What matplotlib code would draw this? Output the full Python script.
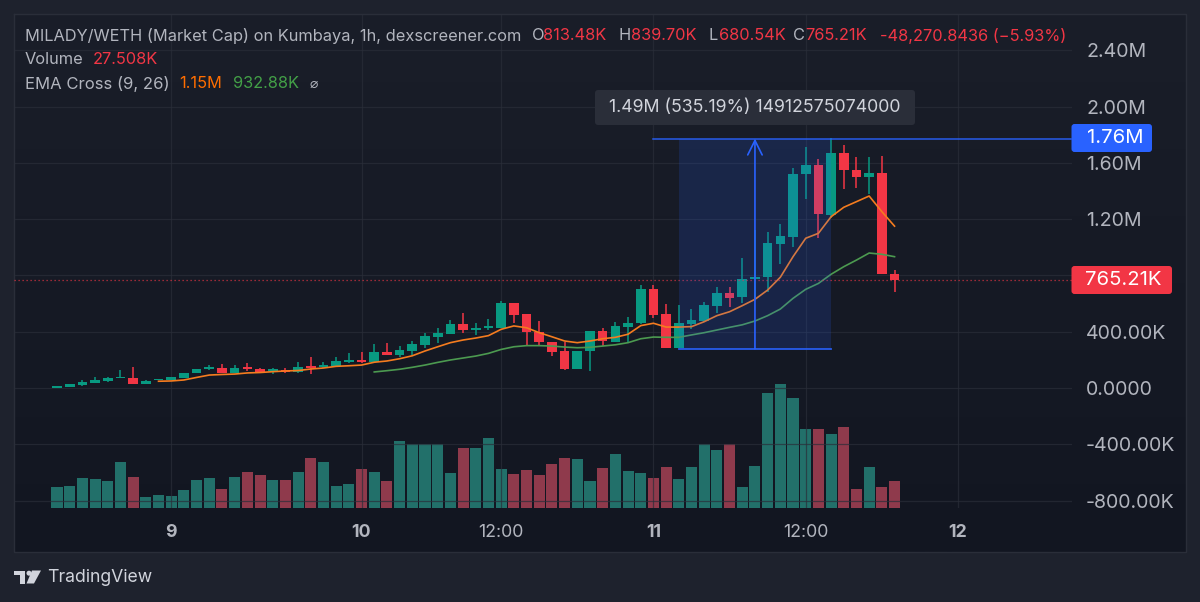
import matplotlib
matplotlib.use("Agg")
import matplotlib.pyplot as plt
import numpy as np
from matplotlib.patches import FancyBboxPatch, Polygon, Circle

plt.rcParams['font.family'] = ['Inter', 'DejaVu Sans']

# candles, market cap in thousands
opens = [2, 5, 21, 38, 50, 69, 71, 31, 59, 57, 71, 104, 133, 144, 109, 151, 135, 121, 130, 114, 156, 147, 156, 185,
         199, 183, 256, 234, 265, 306, 364, 382, 457, 414, 426, 428, 604, 526, 398, 329, 261, 133, 263, 405, 329,
         433, 460, 703, 524, 286, 455, 478, 585, 673, 644, 772, 789, 1025, 1075, 1518, 1582, 1231, 1672, 1551, 1497,
         1525, 813]
closes = [14, 28, 43, 55, 71, 76, 28, 52, 66, 76, 107, 135, 147, 107, 142, 137, 112, 133, 114, 151, 142, 161, 192, 201,
          183, 254, 234, 270, 310, 369, 389, 457, 414, 428, 441, 604, 519, 398, 325, 256, 133, 265, 405, 332, 438,
          464, 703, 519, 286, 460, 483, 588, 673, 642, 774, 791, 1028, 1080, 1520, 1582, 1234, 1672, 1547, 1497, 1525,
          808, 765]
highs = [14, 28, 55, 76, 76, 128, 151, 57, 66, 80, 107, 135, 166, 171, 161, 175, 144, 140, 144, 187, 222, 187, 218, 247,
         254, 310, 320, 301, 332, 389, 428, 481, 531, 464, 488, 620, 604, 526, 478, 329, 329, 265, 405, 424, 471,
         502, 732, 734, 595, 590, 561, 609, 720, 715, 926, 1123, 1106, 1167, 1561, 1714, 1625, 1774, 1727, 1643, 1643,
         1648, 840]
lows = [2, 5, 16, 33, 40, 69, 28, 28, 59, 55, 71, 104, 128, 104, 109, 123, 107, 99, 109, 109, 99, 142, 156, 175,
        175, 183, 234, 218, 234, 284, 322, 382, 389, 377, 412, 428, 464, 301, 301, 225, 128, 133, 123, 298, 329,
        325, 453, 495, 286, 286, 417, 469, 531, 578, 606, 625, 684, 881, 1002, 1343, 1064, 1206, 1416, 1421, 1376,
        808, 681]
volumes = [21, 22, 30, 29, 27, 46, 31, 11, 13, 12, 18, 28, 30, 19, 31, 36, 33, 28, 28, 36, 50, 46, 22, 24,
           39, 36, 27, 67, 64, 64, 64, 35, 60, 60, 70, 39, 34, 38, 33, 44, 50, 49, 27, 40, 54,
           37, 35, 30, 41, 29, 41, 64, 58, 64, 21, 42, 115, 124, 110, 79, 79, 74, 81, 19, 41,
           21, 27.5]

# EMA lines start later than the candles
ema_fast_start = 8
ema_fast = [48, 50, 57, 75, 92, 96, 99, 107, 110, 116, 121, 124, 135, 142, 154, 158, 163, 183, 192, 208, 229, 263,
            293, 322, 341, 355, 372, 417, 441, 428, 393, 364, 334, 322, 334, 350, 360, 382, 443, 460, 433, 433,
            436, 471, 514, 542, 585, 630, 696, 787, 933, 1064, 1099, 1217, 1284, 1324, 1364, 1253, 1150]
ema_slow_start = 25
ema_slow = [114, 123, 133, 147, 163, 182, 199, 213, 227, 246, 274, 293, 301, 301, 298, 291, 286, 289, 298, 307, 322,
            350, 362, 360, 360, 377, 393, 412, 431, 449, 476, 514, 561, 637, 701, 743, 808, 862, 909, 959, 950, 933]

# axis ticks
time_ticks = [9, 24, 35, 47, 59, 71]
time_labels = ['9', '10', '12:00', '11', '12:00', '12']
price_ticks = [-800, -400, 0, 400, 800, 1200, 1600, 2000, 2400]
price_labels = ['-800.00K', '-400.00K', '0.0000', '400.00K', '', '1.20M', '1.60M', '2.00M', '2.40M']

# price range tool and last price
range_start, range_end = 49, 61
range_low, range_high = 279, 1772
range_line_start = 47
last_price = 765.21

GREEN = '#089981'
RED = '#f23645'
BLUE = '#2962ff'
GREY = '#b2b5be'
W, H = 1200, 602

fig = plt.figure(figsize=(12, 6.02), dpi=100, facecolor='#1e222d')

# panel background, in pixels
bg = fig.add_axes([0, 0, 1, 1], zorder=0)
bg.set_xlim(0, W)
bg.set_ylim(H, 0)
bg.axis('off')
gradient = np.linspace(0, 1, 256).reshape(-1, 1)
top_col = np.array([0x1a, 0x1e, 0x29]) / 255
bot_col = np.array([0x12, 0x16, 0x21]) / 255
bg.imshow(top_col + gradient[..., None] * (bot_col - top_col), extent=(14, 1186, 552, 14), aspect='auto')
bg.set_xlim(0, W)
bg.set_ylim(H, 0)
bg.plot([14, 1186, 1186, 14, 14], [14, 14, 552, 552, 14], color='#2a2e39', lw=1)

# TradingView logo
logo = '#d1d4dc'
bg.add_patch(Polygon([(14, 570.5), (25, 570.5), (25, 583.5), (19.5, 583.5), (19.5, 575), (14, 575)], color=logo, lw=0))
bg.add_patch(Circle((29, 573.2), 2.5, color=logo, lw=0))
bg.add_patch(Polygon([(32, 570.5), (41, 570.5), (34, 583.5), (26.5, 583.5)], color=logo, lw=0))
bg.text(47, 578, 'TradingView', color='#d1d4dc', fontsize=12.7, va='center', ha='left')

# main chart, x is candle number and y is market cap in K
left, right, top, bottom = 14, 1071.5, 14, 508
rect = [left / W, 1 - bottom / H, (right - left) / W, (bottom - top) / H]
ax = fig.add_axes(rect, zorder=2, facecolor='none')
x0, dx = 57, 12.69
ax.set_xlim((left - x0) / dx, (right - x0) / dx)
ax.set_ylim((388 - bottom) * 7.105, (388 - top) * 7.105)

# volume sits on its own scale at the bottom of the chart
ax_vol = fig.add_axes(rect, zorder=1, facecolor='none', sharex=ax)
ax_vol.set_ylim(0, bottom - top)
ax_vol.axis('off')

idx = np.arange(len(opens))
opens = np.array(opens)
closes = np.array(closes)
up = closes >= opens
colors = np.where(up, GREEN, RED)

ax_vol.bar(idx, volumes, width=0.87, color=np.where(up, '#22706a', '#8f3a4c'), lw=0)

ax.vlines(idx, lows, highs, colors=colors, lw=1.1, zorder=3)
ax.bar(idx, np.abs(closes - opens), bottom=np.minimum(opens, closes), width=0.76, color=colors, lw=0, zorder=4)

ax.plot(np.arange(len(ema_fast)) + ema_fast_start, ema_fast, color='#f57c1f', lw=1.2, zorder=5)
ax.plot(np.arange(len(ema_slow)) + ema_slow_start, ema_slow, color='#4c9a50', lw=1.2, zorder=5)

# last price line
ax.axhline(last_price, color=RED, lw=0.9, ls=(0, (1, 2.2)), alpha=0.8, zorder=5)

# price range tool
ax.fill_between([range_start, range_end], range_low, range_high, color=BLUE, alpha=0.16, lw=0, zorder=6)
ax.plot([range_line_start, (right - x0) / dx], [range_high, range_high], color=BLUE, lw=1.1, zorder=7, alpha=0.9)
ax.plot([range_start, range_end], [range_low, range_low], color=BLUE, lw=1.3, zorder=7, alpha=0.9)
ax.annotate('', xy=((range_start + range_end) / 2, range_high), xytext=((range_start + range_end) / 2, range_low),
            arrowprops=dict(arrowstyle='->', color=BLUE, lw=1.2, mutation_scale=26, shrinkA=0, shrinkB=0), zorder=7)

# grid and ticks
ax.set_xticks(time_ticks)
ax.set_xticklabels(time_labels)
ax.set_yticks(price_ticks)
ax.set_yticklabels(price_labels)
ax.yaxis.tick_right()
ax.grid(True, color='#2a2e39', lw=0.9, alpha=0.7)
ax.set_axisbelow(True)
for s in ax.spines.values():
    s.set_visible(False)
ax.tick_params(axis='y', length=0, pad=10.5, labelsize=14.1, labelcolor=GREY)
ax.tick_params(axis='x', length=0, pad=11.5, labelsize=12.8, labelcolor=GREY)
for lab, txt in zip(ax.get_xticklabels(), time_labels):
    if ':' not in txt:
        lab.set_fontweight('bold')

# header, labels and tooltip on top, in pixels
ov = fig.add_axes([0, 0, 1, 1], zorder=5, facecolor='none')
ov.set_xlim(0, W)
ov.set_ylim(H, 0)
ov.axis('off')


def put(x, y, s, color=GREY, size=11.8, ha='left'):
    ov.text(x, y, s, color=color, fontsize=size, va='center', ha=ha)


put(25, 36, 'MILADY/WETH (Market Cap) on Kumbaya, 1h, dexscreener.com')
for x, s, col in [(532, 'O', GREY), (543, '813.48K', RED), (619, 'H', GREY), (631, '839.70K', RED),
                  (708, 'L', GREY), (719, '680.54K', RED), (793, 'C', GREY), (805, '765.21K', RED),
                  (880, '-48,270.8436 (−5.93%)', RED)]:
    put(x, 36, s, col)
put(25, 60, 'Volume')
put(93, 60, '27.508K', RED)
put(25, 84, 'EMA Cross (9, 26)', size=12)
put(179, 84, '1.15M', '#ff6d00')
put(233, 84, '932.88K', '#43a047')
put(310, 84, '⌀', GREY, 10)


def label_box(x1, y1, x2, y2, color):
    ov.add_patch(FancyBboxPatch((x1 + 3, y1 + 3), x2 - x1 - 6, y2 - y1 - 6, boxstyle='round,pad=3,rounding_size=3',
                                fc=color, ec='none'))


label_box(595, 90, 915, 125, '#2a2e39')
put(755, 108, '1.49M (535.19%) 14912575074000', '#d1d4dc', 12.8, 'center')
label_box(1071.5, 124, 1152, 152, BLUE)
put(1087, 138.3, '1.76M', 'white', 14.6)
label_box(1071.5, 266, 1172, 294, RED)
put(1085, 280, '765.21K', 'white', 14.6)

fig.savefig('out.png', dpi=100, facecolor=fig.get_facecolor())
